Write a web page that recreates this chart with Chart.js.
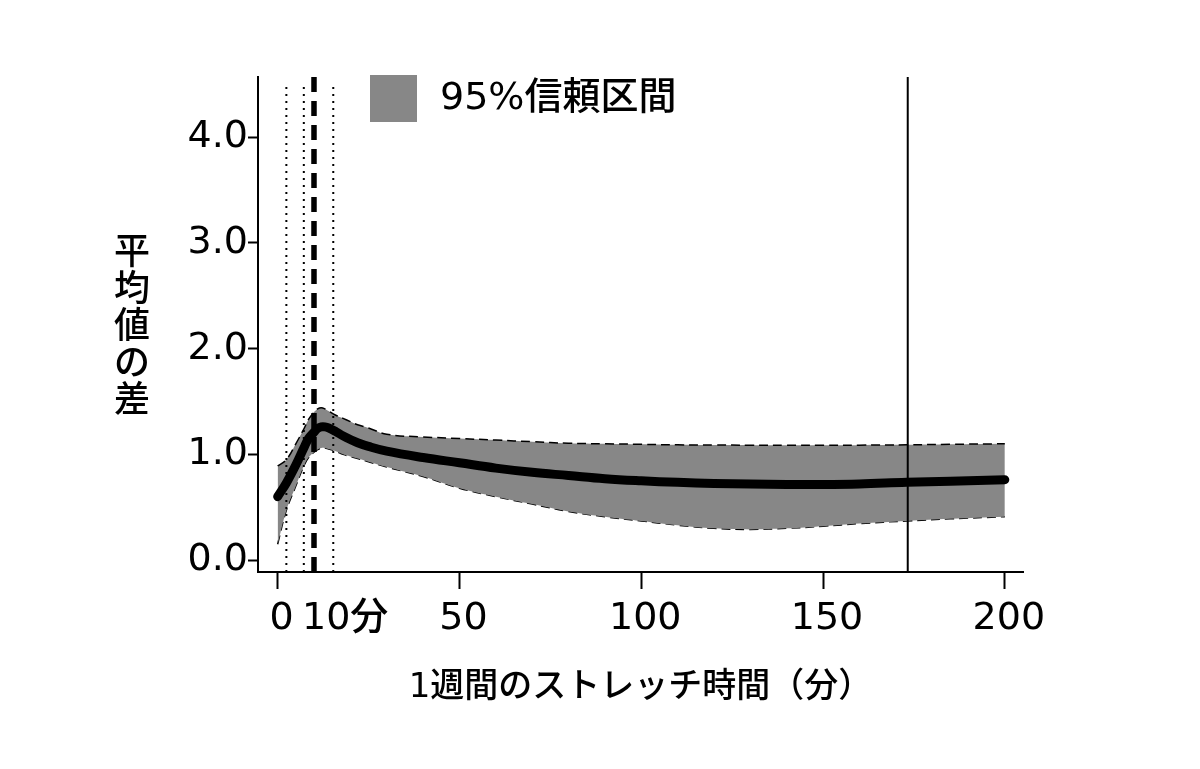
<!DOCTYPE html>
<html>
<head>
<meta charset="utf-8">
<script src="https://cdn.jsdelivr.net/npm/chart.js@4/dist/chart.umd.min.js"></script>
<style>
  html, body { margin: 0; padding: 0; background: #fff; }
  #wrap { width: 1200px; height: 769px; }
</style>
</head>
<body>
<div id="wrap"><canvas id="chart" width="1200" height="769"></canvas></div>
<script>
// stretch minutes per week and the estimated mean difference with its 95% CI
const minutes  = [0,    2.4,  5,    7.2,  8.5,  10,   11,    12,   13,   14,   16,   18,   20,    22,   25,    30,   40,    50,   60,    70,   80,    90,   100,   110,   120,   130,   140,   150,   160,   173,  185,   200];
const meanDiff = [0.60, 0.73, 0.90, 1.06, 1.15, 1.21, 1.245, 1.26, 1.26, 1.25, 1.215, 1.175, 1.14, 1.11, 1.075, 1.03, 0.97,  0.92, 0.87,  0.83, 0.80,  0.77, 0.75,  0.735, 0.725, 0.72,  0.715, 0.715, 0.72,  0.735, 0.745, 0.76];
const ciUpper  = [0.89, 0.95, 1.10, 1.24, 1.33, 1.40, 1.43,  1.44, 1.43, 1.41, 1.37, 1.34, 1.31,  1.28, 1.25,  1.19, 1.165, 1.15, 1.135, 1.12, 1.105, 1.10, 1.095, 1.09,  1.088, 1.087, 1.086, 1.086, 1.087, 1.09,  1.095, 1.10];
const ciLower  = [0.15, 0.47, 0.70, 0.89, 0.97, 1.02, 1.045, 1.06, 1.06, 1.05, 1.03, 1.00, 0.98,  0.96, 0.93,  0.88, 0.79,  0.68, 0.60,  0.53, 0.46,  0.41, 0.37,  0.33,  0.30,  0.29,  0.30,  0.32,  0.345, 0.37,  0.39,  0.41];

// reference lines
const knotLines = [2.4, 7.2, 15.3];
const thresholdLine = 10;
const solidLine = 173.3;

const xTicks = [0, 50, 100, 150, 200];
const yTicks = [0, 1, 2, 3, 4];
const xMin = -5.4, xMax = 205;
const yMin = -0.113, yMax = 4.57;

const FONT = "'DejaVu Sans', 'Noto Sans CJK JP', sans-serif";
const CJK = "'Noto Sans CJK JP', sans-serif";
const BAND = '#878787';

const pts = (ys) => minutes.map((x, i) => ({ x: x, y: ys[i] }));
const vline = (x, top) => [{ x: x, y: yMin }, { x: x, y: top }];

const datasets = [];
knotLines.forEach(v => datasets.push({
  data: vline(v, 4.5), borderColor: '#000', borderWidth: 2, borderDash: [2, 5],
  pointRadius: 0, order: 0
}));
datasets.push({
  data: vline(thresholdLine, yMax), borderColor: '#000', borderWidth: 5.5, borderDash: [15, 9],
  pointRadius: 0, order: 0
});
datasets.push({
  data: vline(solidLine, yMax), borderColor: '#000', borderWidth: 2,
  pointRadius: 0, order: 0
});
datasets.push({
  label: '平均値', data: pts(meanDiff), borderColor: '#000', borderWidth: 9,
  borderCapStyle: 'round', tension: 0.4, pointRadius: 0, order: 1
});
const upperIndex = datasets.length;
datasets.push({
  label: '95%信頼区間', data: pts(ciUpper), borderColor: '#000', borderWidth: 1.5,
  borderDash: [9, 5], backgroundColor: BAND, fill: '+1',
  tension: 0.4, pointRadius: 0, order: 2
});
datasets.push({
  data: pts(ciLower), borderColor: '#000', borderWidth: 1.5, borderDash: [9, 5],
  tension: 0.4, pointRadius: 0, order: 3, fill: false
});

// legend box + text, top left inside the plot
const legendPlugin = {
  id: 'bandLegend',
  afterDraw(chart) {
    const ctx = chart.ctx, a = chart.chartArea;
    const ds = chart.data.datasets[upperIndex];
    const bx = a.left + 112, by = a.top - 2;
    ctx.save();
    ctx.fillStyle = ds.backgroundColor;
    ctx.fillRect(bx, by, 47, 47);
    ctx.fillStyle = '#000';
    ctx.font = '500 38px ' + FONT;
    ctx.textAlign = 'left';
    ctx.textBaseline = 'middle';
    ctx.fillText(ds.label, bx + 70, by + 24);
    ctx.restore();
  }
};

// vertical y-axis title (upright stacked characters) and the "10分" label
const extraText = {
  id: 'extraText',
  afterDraw(chart) {
    const ctx = chart.ctx, a = chart.chartArea;
    const title = '平均値の差';
    const pitch = 37;
    const cy = (a.top + a.bottom) / 2;
    ctx.save();
    ctx.fillStyle = '#000';
    ctx.font = '500 36px ' + CJK;
    ctx.textAlign = 'center';
    ctx.textBaseline = 'middle';
    [...title].forEach((ch, i) => {
      ctx.fillText(ch, 132, cy + (i - (title.length - 1) / 2) * pitch);
    });

    const xs = chart.scales.x;
    const item = xs.getLabelItems()[0];
    ctx.font = '500 38px ' + FONT;
    ctx.textAlign = 'left';
    ctx.textBaseline = item.options.textBaseline;
    ctx.fillText('10分', xs.getPixelForValue(thresholdLine) - 12, item.options.translation[1] + item.textOffset);
    ctx.restore();
  }
};

new Chart(document.getElementById('chart'), {
  type: 'line',
  data: { datasets: datasets },
  options: {
    responsive: false,
    animation: false,
    layout: { padding: { left: 0, top: 77, right: 177, bottom: 0 } },
    plugins: { legend: { display: false }, tooltip: { enabled: false } },
    scales: {
      x: {
        type: 'linear', min: xMin, max: xMax,
        afterBuildTicks: (s) => { s.ticks = xTicks.map(v => ({ value: v })); },
        afterFit: (s) => { s.height = 197; },
        border: { display: true, color: '#000', width: 2 },
        grid: { drawOnChartArea: false, drawTicks: true, tickLength: 17, tickColor: '#000', tickWidth: 2 },
        ticks: { color: '#000', font: { family: FONT, size: 38, weight: '500' }, padding: 7, labelOffset: 4, autoSkip: false, maxRotation: 0 },
        title: {
          display: true, text: '1週間のストレッチ時間（分）', color: '#000',
          font: { family: FONT, size: 34, weight: '500' }, padding: { top: 0, bottom: 60 }
        }
      },
      y: {
        type: 'linear', min: yMin, max: yMax,
        afterBuildTicks: (s) => { s.ticks = yTicks.map(v => ({ value: v })); },
        afterFit: (s) => { s.width = 258; },
        border: { display: true, color: '#000', width: 2 },
        grid: { drawOnChartArea: false, drawTicks: true, tickLength: 10, tickColor: '#000', tickWidth: 2 },
        ticks: { color: '#000', font: { family: FONT, size: 38, weight: '500' }, padding: 0, callback: (v) => v.toFixed(1) }
      }
    }
  },
  plugins: [legendPlugin, extraText]
});
</script>
</body>
</html>
